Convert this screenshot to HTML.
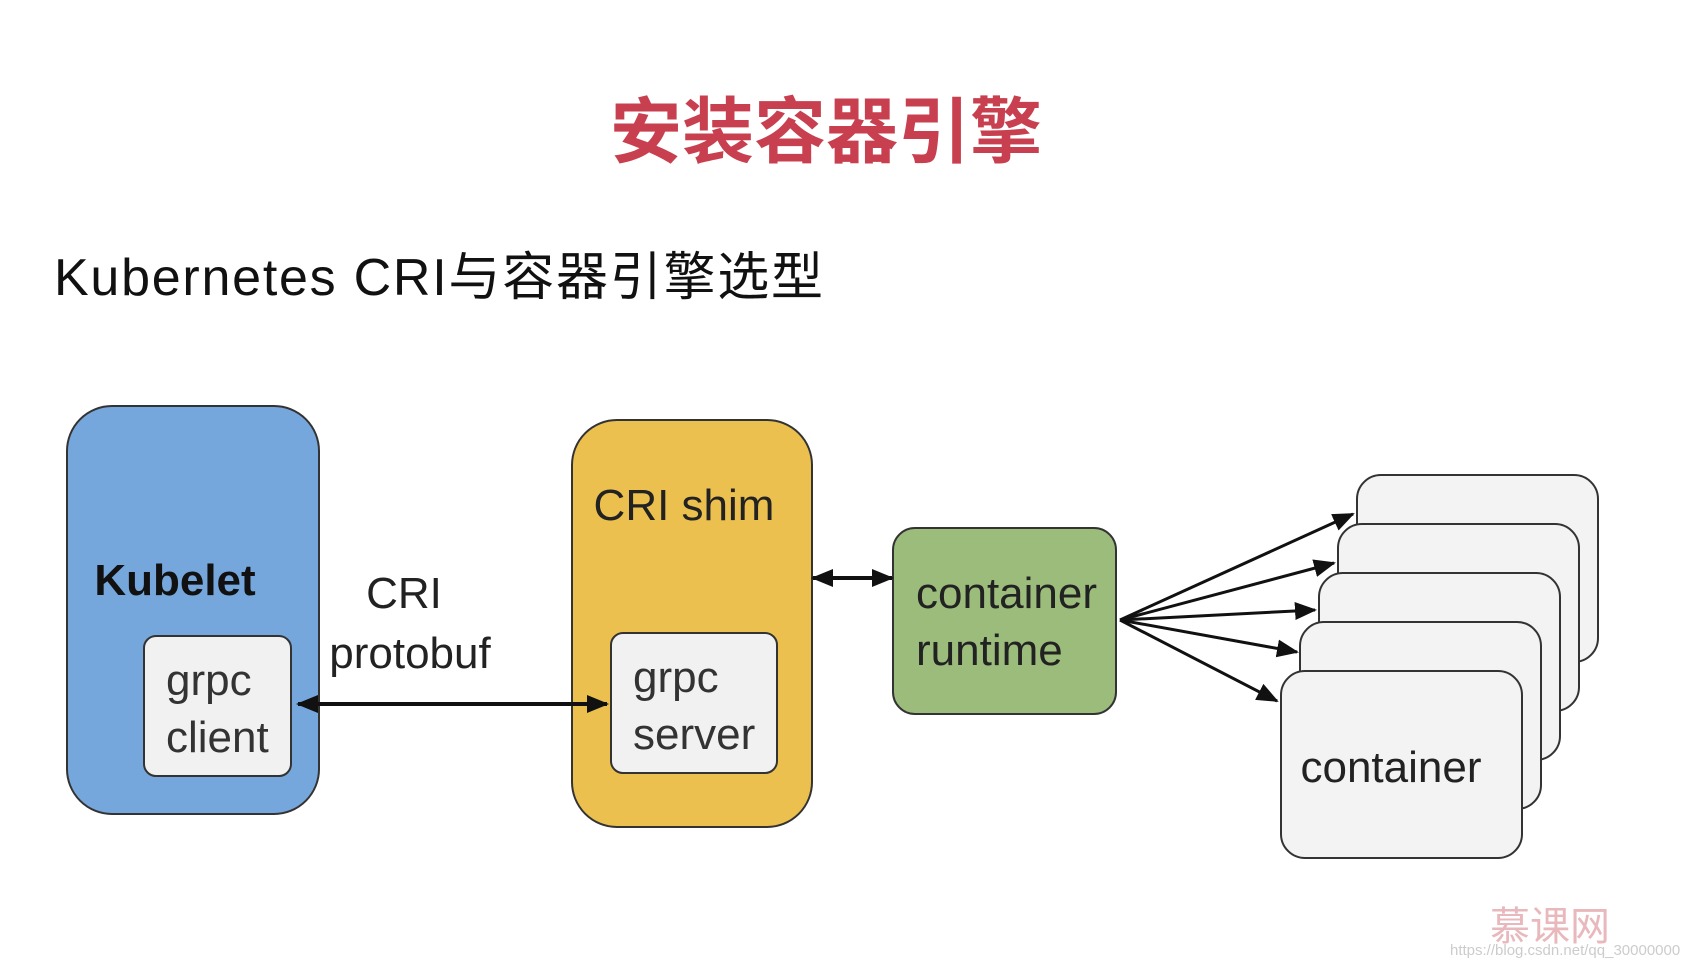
<!DOCTYPE html>
<html><head><meta charset="utf-8"><style>
body{margin:0;background:#fff;}
svg{display:block}
</style></head><body>
<svg width="1691" height="967" viewBox="0 0 1691 967" xmlns="http://www.w3.org/2000/svg">
<defs>
<marker id="a" markerWidth="10" markerHeight="10" refX="9" refY="5" orient="auto-start-reverse" markerUnits="userSpaceOnUse"><path d="M0,0 L10,5 L0,10 z" fill="#111"/></marker>
<marker id="b" markerWidth="22" markerHeight="18" refX="20" refY="9" orient="auto-start-reverse" markerUnits="userSpaceOnUse"><path d="M0,0 L22,9 L0,18 z" fill="#111"/></marker>
</defs>
<text x="826" y="157" text-anchor="middle" font-family="Liberation Sans, Noto Sans CJK SC, sans-serif" font-size="72" font-weight="bold" fill="#c8404f">安装容器引擎</text>
<text x="54" y="295" font-family="Liberation Sans, Noto Sans CJK SC, sans-serif" font-size="52" fill="#111" textLength="769">Kubernetes CRI与容器引擎选型</text>
<g font-family="Liberation Sans, DejaVu Sans, sans-serif">
<rect x="67" y="406" width="252" height="408" rx="45" fill="#76a7dc" stroke="#333" stroke-width="2"/>
<text x="175" y="595" text-anchor="middle" font-size="44" font-weight="bold" fill="#111">Kubelet</text>
<rect x="144" y="636" width="147" height="140" rx="12" fill="#f1f1f1" stroke="#333" stroke-width="2"/>
<text x="166" y="695" font-size="44" fill="#333">grpc</text>
<text x="166" y="752" font-size="44" fill="#333">client</text>
<rect x="572" y="420" width="240" height="407" rx="45" fill="#ecc04f" stroke="#333" stroke-width="2"/>
<text x="684" y="520" text-anchor="middle" font-size="44" fill="#222">CRI shim</text>
<rect x="611" y="633" width="166" height="140" rx="12" fill="#f1f1f1" stroke="#333" stroke-width="2"/>
<text x="633" y="692" font-size="44" fill="#333">grpc</text>
<text x="633" y="749" font-size="44" fill="#333">server</text>
<rect x="893" y="528" width="223" height="186" rx="22" fill="#9cbc7c" stroke="#333" stroke-width="2"/>
<text x="916" y="608" font-size="44" fill="#222">container</text>
<text x="916" y="665" font-size="44" fill="#222">runtime</text>
<text x="404" y="608" text-anchor="middle" font-size="44" fill="#222">CRI</text>
<text x="410" y="668" text-anchor="middle" font-size="44" fill="#222">protobuf</text>
<g fill="#f3f3f3" stroke="#333" stroke-width="2">
<rect x="1357" y="475" width="241" height="187" rx="24"/>
<rect x="1338" y="524" width="241" height="187" rx="24"/>
<rect x="1319" y="573" width="241" height="187" rx="24"/>
<rect x="1300" y="622" width="241" height="187" rx="24"/>
<rect x="1281" y="671" width="241" height="187" rx="24"/>
</g>
<text x="1391" y="782" text-anchor="middle" font-size="44" fill="#222">container</text>
<g stroke="#111" stroke-width="4">
<line x1="298" y1="704" x2="607" y2="704" marker-start="url(#b)" marker-end="url(#b)"/>
<line x1="813" y1="578" x2="892" y2="578" marker-start="url(#b)" marker-end="url(#b)"/>
</g>
<g stroke="#111" stroke-width="3">
<line x1="1120" y1="620" x2="1353" y2="514" marker-end="url(#b)"/>
<line x1="1120" y1="620" x2="1334" y2="563" marker-end="url(#b)"/>
<line x1="1120" y1="620" x2="1315" y2="610" marker-end="url(#b)"/>
<line x1="1120" y1="620" x2="1297" y2="652" marker-end="url(#b)"/>
<line x1="1120" y1="620" x2="1277" y2="701" marker-end="url(#b)"/>
</g>
</g>
<text x="1550" y="940" text-anchor="middle" font-family="Liberation Sans, Noto Sans CJK SC, sans-serif" font-size="40" fill="#e8b8bc">慕课网</text>
<text x="1450" y="955" font-family="Liberation Sans, sans-serif" font-size="15" fill="#ccc">https://blog.csdn.net/qq_30000000</text>
</svg>
</body></html>
